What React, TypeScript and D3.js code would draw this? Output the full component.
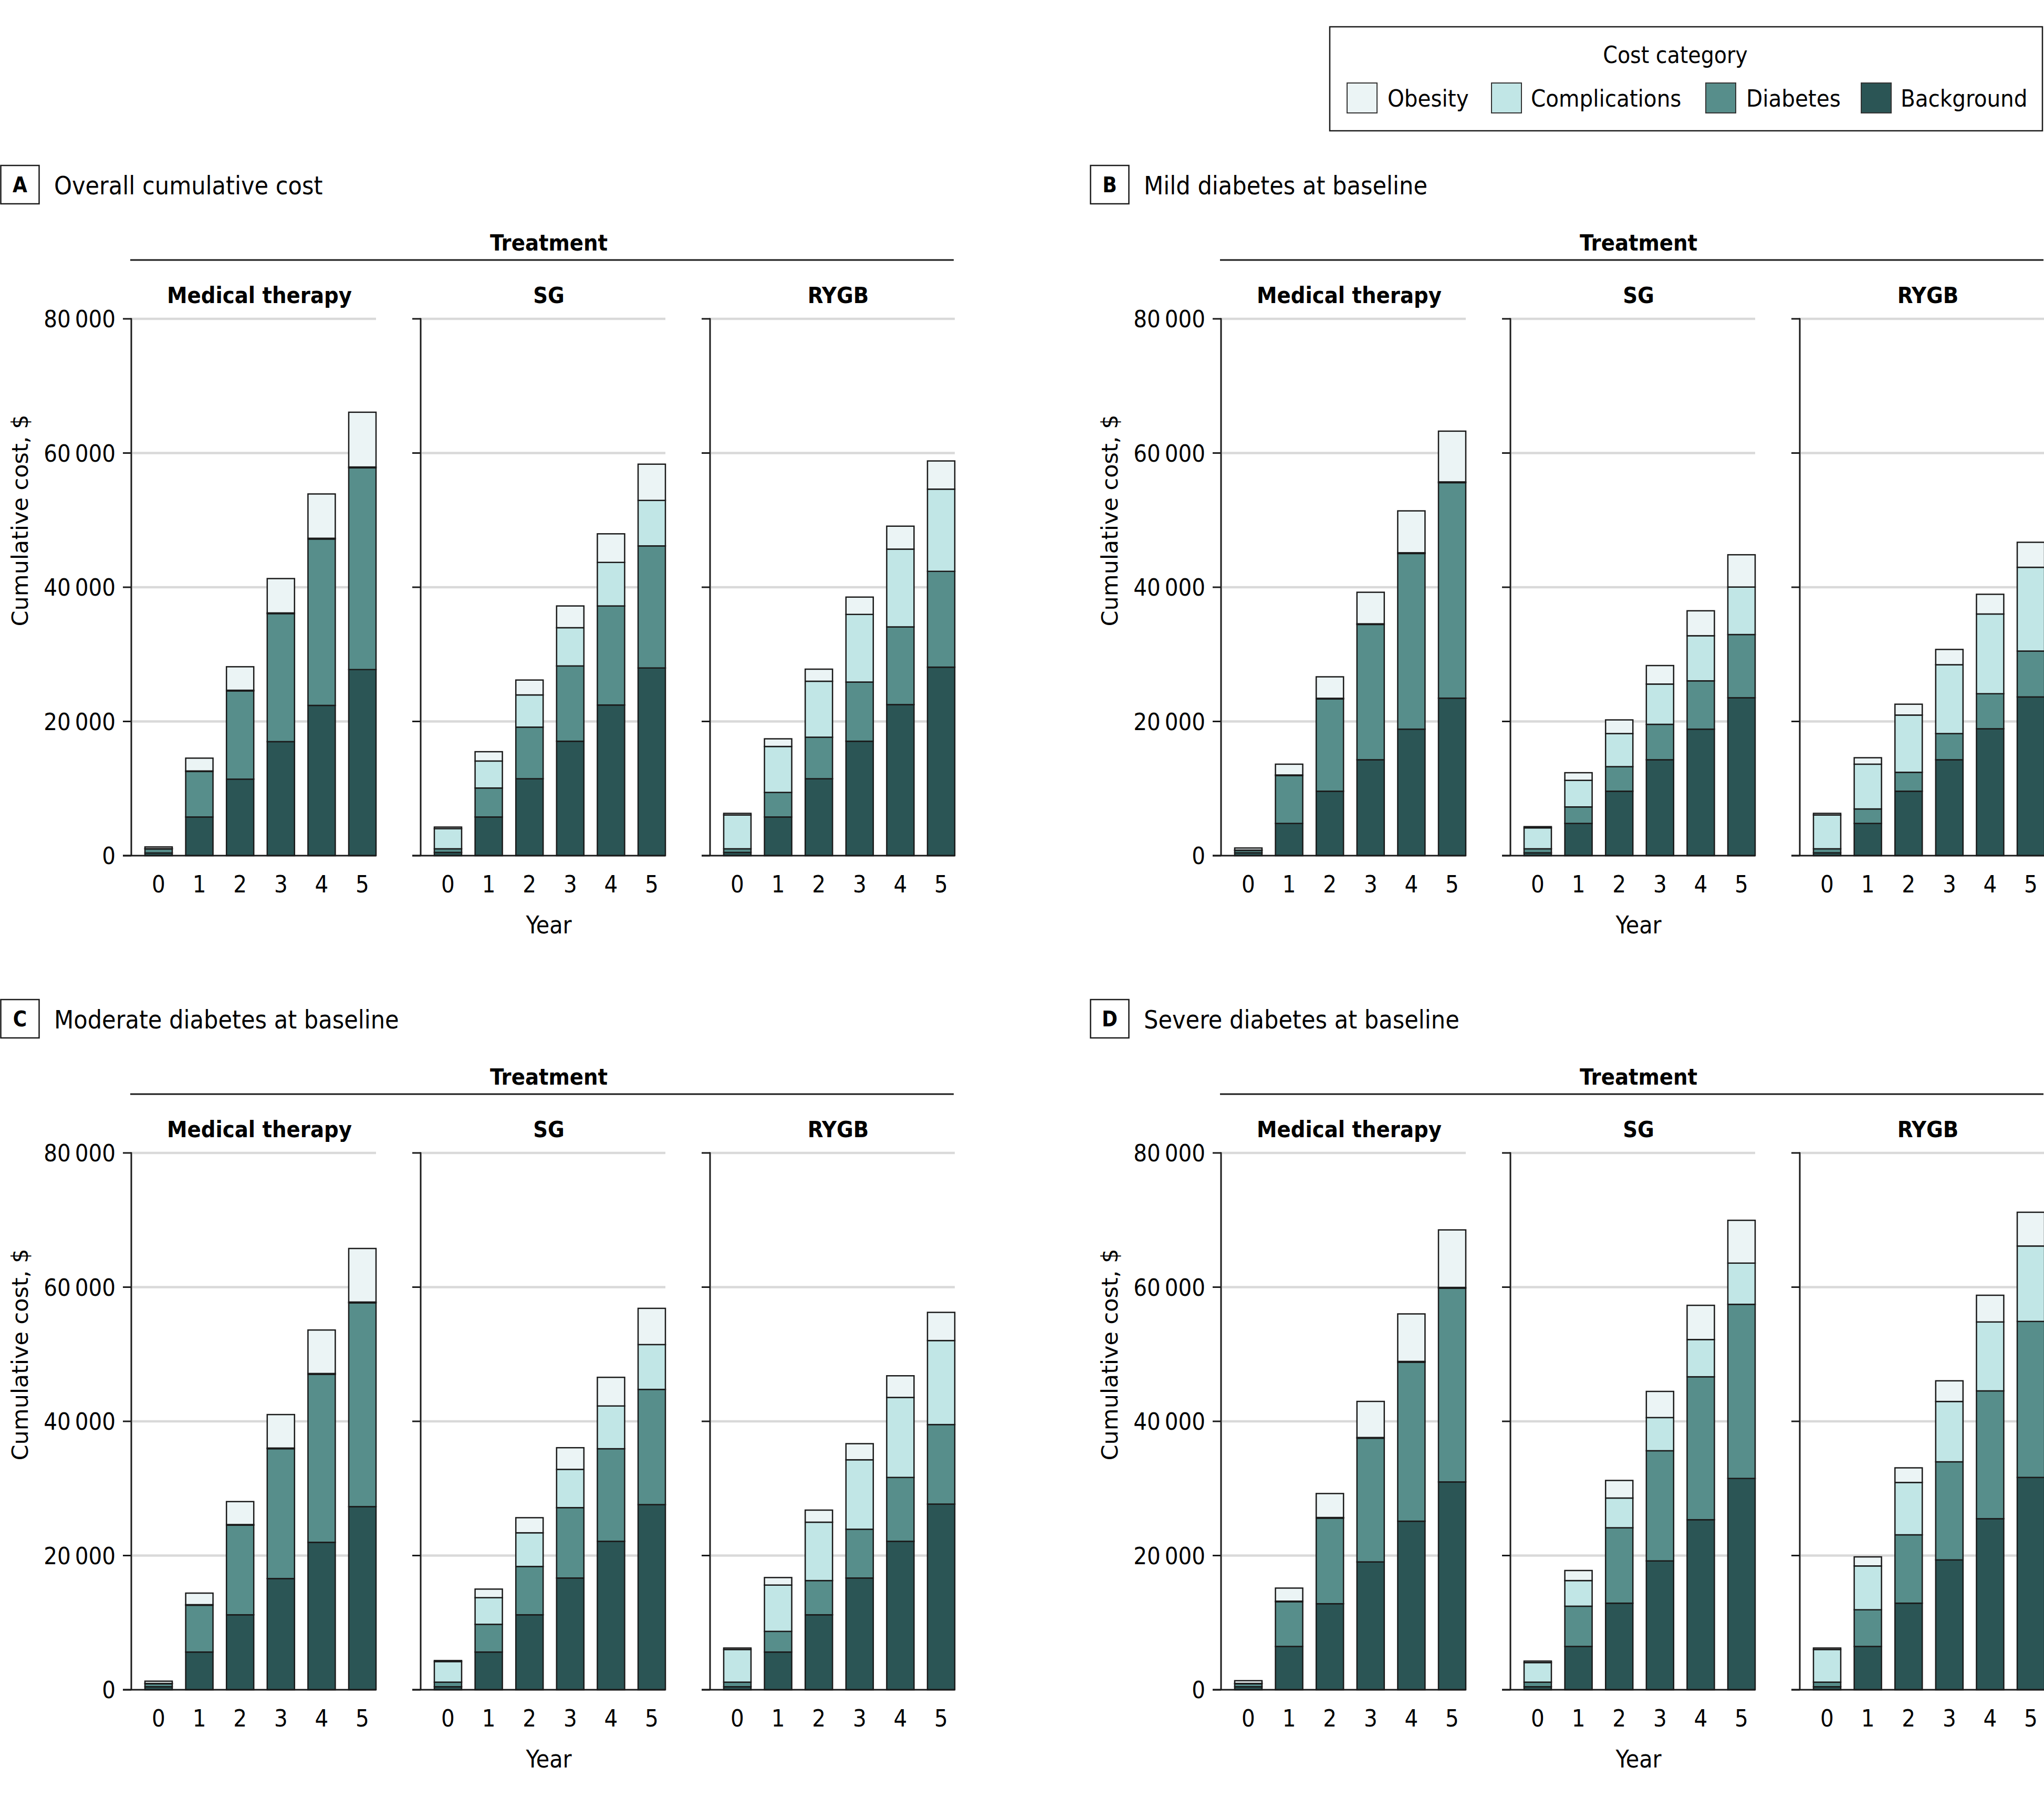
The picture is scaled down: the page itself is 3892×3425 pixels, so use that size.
import React from "react";
import * as d3 from "d3";

// ---------- data ----------
const years = ["0", "1", "2", "3", "4", "5"];
const treatments = ["Medical therapy", "SG", "RYGB"];
const categories = ["Background", "Diabetes", "Complications", "Obesity"];
const legendOrder = ["Obesity", "Complications", "Diabetes", "Background"];
const categoryColors = ["#2b5555", "#578e8b", "#c1e6e6", "#ebf4f5"];
const yTicks = [0, 20000, 40000, 60000, 80000];

const panelLetters = ["A", "B", "C", "D"];
const panelTitles = [
  "Overall cumulative cost",
  "Mild diabetes at baseline",
  "Moderate diabetes at baseline",
  "Severe diabetes at baseline",
];

// Panel A – overall (rows: Medical therapy, SG, RYGB; columns: years 0-5)
const overallBackground = [
  [400, 5760, 11400, 16990, 22390, 27730],
  [480, 5760, 11460, 17050, 22450, 27970],
  [480, 5760, 11460, 17050, 22510, 28090],
];
const overallDiabetes = [
  [600, 6780, 13150, 19080, 24790, 30070],
  [540, 4320, 7690, 11220, 14760, 18190],
  [540, 3660, 6190, 8820, 11580, 14280],
];
const overallComplications = [
  [40, 80, 100, 100, 120, 120],
  [3000, 4020, 4800, 5700, 6490, 6780],
  [5040, 6850, 8340, 10080, 11590, 12250],
];
const overallObesity = [
  [260, 1910, 3500, 5120, 6600, 8160],
  [240, 1390, 2220, 3240, 4260, 5400],
  [240, 1140, 1800, 2580, 3420, 4200],
];

// Panel B – mild diabetes
const mildBackground = [
  [420, 4800, 9600, 14290, 18850, 23470],
  [420, 4800, 9600, 14290, 18850, 23530],
  [420, 4800, 9600, 14290, 18910, 23650],
];
const mildDiabetes = [
  [360, 7140, 13750, 20160, 26170, 32110],
  [600, 2460, 3660, 5280, 7200, 9420],
  [600, 2160, 2820, 3900, 5220, 6840],
];
const mildComplications = [
  [40, 80, 100, 100, 120, 120],
  [3120, 3960, 4930, 6000, 6720, 7080],
  [5040, 6670, 8530, 10260, 11880, 12480],
];
const mildObesity = [
  [320, 1610, 3200, 4700, 6240, 7560],
  [180, 1140, 2040, 2760, 3720, 4810],
  [240, 960, 1620, 2280, 2940, 3730],
];

// Panel C – moderate diabetes
const moderateBackground = [
  [450, 5620, 11170, 16570, 21970, 27290],
  [450, 5620, 11170, 16650, 22120, 27590],
  [450, 5620, 11170, 16650, 22120, 27670],
];
const moderateDiabetes = [
  [450, 6980, 13350, 19350, 25040, 30370],
  [680, 4130, 7200, 10490, 13800, 17170],
  [680, 3080, 5100, 7270, 9520, 11850],
];
const moderateComplications = [
  [40, 80, 100, 100, 120, 120],
  [3070, 3970, 5020, 5700, 6370, 6680],
  [4870, 6900, 8700, 10350, 11920, 12520],
];
const moderateObesity = [
  [340, 1720, 3420, 4990, 6480, 7980],
  [150, 1280, 2250, 3230, 4270, 5400],
  [220, 1120, 1800, 2400, 3230, 4200],
];

// Panel D – severe diabetes
const severeBackground = [
  [450, 6450, 12820, 19050, 25120, 30970],
  [450, 6450, 12900, 19200, 25340, 31490],
  [450, 6450, 12900, 19350, 25490, 31640],
];
const severeDiabetes = [
  [450, 6670, 12750, 18440, 23690, 28870],
  [680, 6000, 11240, 16420, 21300, 25950],
  [680, 5470, 10190, 14620, 19050, 23250],
];
const severeComplications = [
  [40, 80, 100, 100, 120, 120],
  [2920, 3820, 4430, 4940, 5550, 6140],
  [4870, 6530, 7800, 8990, 10270, 11240],
];
const severeObesity = [
  [410, 1950, 3570, 5380, 7080, 8570],
  [220, 1500, 2620, 3900, 5100, 6380],
  [220, 1350, 2180, 3080, 3980, 5030],
];

const panelSeries = [
  [overallBackground, overallDiabetes, overallComplications, overallObesity],
  [mildBackground, mildDiabetes, mildComplications, mildObesity],
  [moderateBackground, moderateDiabetes, moderateComplications, moderateObesity],
  [severeBackground, severeDiabetes, severeComplications, severeObesity],
];

// ---------- layout ----------
const W = 3892;
const H = 3425;
const panelOffsets = [
  [0, 0],
  [2075, 0],
  [0, 1588],
  [2075, 1588],
];
const COND = "'DejaVu Sans Condensed', 'DejaVu Sans', sans-serif";
const WIDE = "'DejaVu Sans', sans-serif";
const INK = "#1a1a1a";

const fmt = (v: number) => d3.format(",")(v).replace(/,/g, "\u2009");

function Panel({ idx }: { idx: number }) {
  const [ox, oy] = panelOffsets[idx];
  const series = panelSeries[idx];
  const y = d3.scaleLinear().domain([0, 80000]).range([1629, 607]);
  const facetStart = 250;
  const facetStep = 551;
  const facetW = 466;
  const stack = d3.stack<any>().keys(categories);

  return (
    <g transform={`translate(${ox},${oy})`}>
      {/* panel letter + title */}
      <rect x={1.5} y={315} width={73} height={73} fill="#fff" stroke={INK} strokeWidth={2.5} />
      <text x={38} y={366} textAnchor="middle" fontFamily={COND} fontWeight="bold" fontSize={40}>
        {panelLetters[idx]}
      </text>
      <text x={103} y={370} fontFamily={COND} fontSize={48}>
        {panelTitles[idx]}
      </text>

      {/* Treatment header */}
      <text x={1045} y={477} textAnchor="middle" fontFamily={COND} fontWeight="bold" fontSize={43}>
        Treatment
      </text>
      <line x1={248} x2={1816} y1={495} y2={495} stroke={INK} strokeWidth={3} />

      {/* y label */}
      <text
        transform={`translate(53,991) rotate(-90)`}
        textAnchor="middle"
        fontFamily={WIDE}
        fontSize={43}
      >
        Cumulative cost, $
      </text>

      {treatments.map((t, ti) => {
        const x0 = facetStart + ti * facetStep;
        const x1 = x0 + facetW;
        const xb = d3
          .scaleBand<string>()
          .domain(years)
          .range([x0 + 26, x1])
          .paddingInner(0.33)
          .paddingOuter(0);
        const rows = years.map((yr, yi) => {
          const r: any = { year: yr };
          categories.forEach((c, ci) => (r[c] = series[ci][ti][yi]));
          return r;
        });
        const stacked = stack(rows);
        return (
          <g key={t}>
            <text
              x={(x0 + x1) / 2 + 11}
              y={577}
              textAnchor="middle"
              fontFamily={COND}
              fontWeight="bold"
              fontSize={43}
            >
              {t}
            </text>
            {/* gridlines */}
            {yTicks
              .filter((v) => v > 0)
              .map((v) => (
                <line key={v} x1={x0 + 2} x2={x1} y1={y(v)} y2={y(v)} stroke="#d9d9d9" strokeWidth={4.5} />
              ))}
            {/* bars */}
            {stacked.map((s, si) =>
              s.map((d, di) => (
                <rect
                  key={`${si}-${di}`}
                  x={xb(years[di])}
                  width={xb.bandwidth()}
                  y={y(d[1])}
                  height={Math.max(0, y(d[0]) - y(d[1]))}
                  fill={categoryColors[si]}
                  stroke={INK}
                  strokeWidth={2.5}
                />
              ))
            )}
            {/* axes */}
            <line x1={x0} x2={x0} y1={y(80000) - 1.5} y2={y(0)} stroke={INK} strokeWidth={3} />
            <line x1={x0 - 16} x2={x1} y1={y(0)} y2={y(0)} stroke={INK} strokeWidth={3} />
            {yTicks.map((v) => (
              <line key={v} x1={x0 - 16} x2={x0} y1={y(v)} y2={y(v)} stroke={INK} strokeWidth={3} />
            ))}
            {ti === 0 &&
              yTicks.map((v) => (
                <text
                  key={v}
                  x={x0 - 30}
                  y={y(v) + 16}
                  textAnchor="end"
                  fontFamily={COND}
                  fontSize={45}
                >
                  {fmt(v)}
                </text>
              ))}
            {years.map((yr) => (
              <text
                key={yr}
                x={(xb(yr) as number) + xb.bandwidth() / 2}
                y={1699}
                textAnchor="middle"
                fontFamily={COND}
                fontSize={45}
              >
                {yr}
              </text>
            ))}
          </g>
        );
      })}

      <text x={1045} y={1777} textAnchor="middle" fontFamily={COND} fontSize={46}>
        Year
      </text>
    </g>
  );
}

function Legend() {
  const swatchX = [2565, 2840, 3248, 3544];
  const labelX = [2642, 2915, 3325, 3619];
  return (
    <g>
      <rect x={2532} y={51} width={1357} height={198} fill="#fff" stroke={INK} strokeWidth={2.5} />
      <text x={3190} y={120} textAnchor="middle" fontFamily={COND} fontSize={44}>
        Cost category
      </text>
      {legendOrder.map((c, i) => {
        const ci = categories.indexOf(c);
        return (
          <g key={c}>
            <rect
              x={swatchX[i]}
              y={158}
              width={57}
              height={57}
              fill={categoryColors[ci]}
              stroke="#333"
              strokeWidth={2}
            />
            <text x={labelX[i]} y={203} fontFamily={COND} fontSize={45}>
              {c}
            </text>
          </g>
        );
      })}
    </g>
  );
}

export default function App() {
  return (
    <svg
      width={W}
      height={H}
      viewBox={`0 0 ${W} ${H}`}
      style={{ position: "absolute", left: 0, top: 0, display: "block", background: "#fff" }}
    >
      <rect x={0} y={0} width={W} height={H} fill="#fff" />
      <Legend />
      {panelLetters.map((_, i) => (
        <Panel key={i} idx={i} />
      ))}
    </svg>
  );
}
